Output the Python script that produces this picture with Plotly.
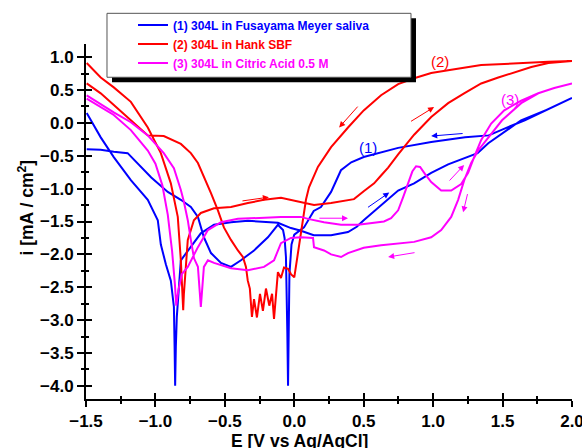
import plotly.graph_objects as go

# ---------------- data (E in V vs Ag/AgCl, i = log current) ----------------
series_names = [
    "(1) 304L in Fusayama Meyer saliva",
    "(2) 304L in Hank SBF",
    "(3) 304L in Citric Acid 0.5 M",
]
series_colors = ["#0000FF", "#FF0000", "#FF00FF"]

saliva_fwd_E = [-1.495, -1.394, -1.30, -1.177, -1.055, -0.983, -0.961, -0.925, -0.889, -0.867, -0.862, -0.858,
                -0.853, -0.846, -0.817, -0.745, -0.673, -0.578, -0.456, -0.334, -0.218, -0.118, -0.024, 0.048,
                0.14, 0.265, 0.387, 0.45, 0.50, 0.56, 0.625, 0.684, 0.748, 0.863, 0.986, 1.108, 1.252, 1.32,
                1.397, 1.51, 1.633, 1.83, 2.0]
saliva_fwd_i = [0.15, -0.22, -0.52, -0.87, -1.17, -1.48, -1.85, -2.15, -2.40, -2.80, -3.40, -4.00,
                -3.40, -2.95, -2.09, -1.89, -1.68, -1.55, -1.51, -1.49, -1.51, -1.52, -1.60, -1.64,
                -1.71, -1.71, -1.66, -1.58, -1.48, -1.37, -1.25, -1.14, -1.03, -0.92, -0.76, -0.63, -0.52, -0.46,
                -0.31, -0.14, 0.04, 0.21, 0.38]
saliva_rev_E = [2.0, 1.83, 1.66, 1.51, 1.40, 1.23, 0.986, 0.748, 0.625, 0.50, 0.41, 0.336, 0.265, 0.192, 0.14,
                0.07, 0.0, -0.02, -0.035, -0.042, -0.045, -0.05, -0.06, -0.07, -0.081, -0.118, -0.19, -0.29,
                -0.384, -0.456, -0.528, -0.60, -0.651, -0.694, -0.745, -0.817, -0.911, -1.03, -1.127, -1.20,
                -1.30, -1.394, -1.495]
saliva_rev_i = [0.38, 0.20, 0.04, -0.09, -0.19, -0.22, -0.29, -0.38, -0.45, -0.52, -0.60, -0.72, -1.05, -1.28, -1.34,
                -1.59, -1.70, -1.85, -2.30, -3.20, -4.00, -3.20, -2.04, -1.75, -1.63, -1.55, -1.74, -1.94,
                -2.09, -2.19, -2.13, -1.98, -1.74, -1.43, -1.28, -1.17, -1.05, -0.83, -0.61, -0.46,
                -0.44, -0.41, -0.40]

hank_fwd_E = [-1.495, -1.394, -1.30, -1.177, -1.055, -0.961, -0.889, -0.839, -0.817, -0.805, -0.80, -0.795,
              -0.788, -0.767, -0.723, -0.673, -0.578, -0.456, -0.334, -0.218, -0.096, 0.027, 0.07, 0.142,
              0.265, 0.43, 0.50, 0.575, 0.625, 0.676, 0.748, 0.863, 0.986, 1.108, 1.223, 1.346, 1.469,
              1.584, 1.707, 1.83, 2.0]
hank_fwd_i = [0.91, 0.69, 0.54, 0.32, -0.07, -0.46, -0.92, -1.43, -2.09, -2.60, -2.85, -2.60,
              -2.39, -1.78, -1.48, -1.37, -1.30, -1.28, -1.22, -1.17, -1.14, -1.20, -1.21, -1.25,
              -1.22, -1.16, -1.04, -0.92, -0.80, -0.68, -0.48, -0.18, 0.09, 0.30, 0.45, 0.60, 0.69,
              0.77, 0.85, 0.91, 0.94]
hank_rev_E = [2.0, 1.83, 1.584, 1.346, 1.108, 0.986, 0.863, 0.748, 0.625, 0.50, 0.387, 0.265, 0.17, 0.106,
              0.084, 0.063, 0.034, 0.019, 0.0, -0.024, -0.045, -0.074, -0.096, -0.118, -0.132, -0.146,
              -0.16, -0.18, -0.204, -0.226, -0.247, -0.269, -0.29, -0.305, -0.32, -0.335, -0.348, -0.37,
              -0.406, -0.456, -0.507, -0.55, -0.60, -0.651, -0.694, -0.745, -0.817, -0.94, -1.055,
              -1.177, -1.30, -1.394, -1.495]
hank_rev_i = [0.94, 0.93, 0.91, 0.88, 0.80, 0.76, 0.68, 0.59, 0.42, 0.19, -0.07, -0.37, -0.67, -0.98,
              -1.17, -1.48, -1.89, -2.13, -2.35, -2.30, -2.22, -2.20, -2.36, -2.27, -2.70, -2.98,
              -2.60, -2.78, -2.52, -2.86, -2.60, -2.96, -2.68, -2.95, -2.52, -2.40, -2.19, -2.04,
              -1.94, -1.78, -1.59, -1.33, -1.07, -0.83, -0.61, -0.46, -0.32, -0.20, -0.19,
              0.04, 0.27, 0.45, 0.60]

citric_fwd_E = [-1.495, -1.415, -1.30, -1.177, -1.055, -1.0, -0.95, -0.911, -0.88, -0.86, -0.85, -0.835,
                -0.81, -0.767, -0.694, -0.622, -0.528, -0.406, -0.29, -0.168, -0.096, 0.048, 0.099, 0.214,
                0.337, 0.46, 0.575, 0.646, 0.697, 0.748, 0.784, 0.82, 0.85, 0.877, 0.906, 0.942, 0.986,
                1.058, 1.13, 1.202, 1.252, 1.295, 1.346, 1.418, 1.512, 1.634, 1.757, 1.872, 2.0]
citric_fwd_i = [0.37, 0.27, 0.12, -0.11, -0.42, -0.62, -0.95, -1.40, -1.95, -2.45, -2.78, -2.55,
                -2.30, -2.19, -1.89, -1.63, -1.51, -1.46, -1.45, -1.43, -1.43, -1.43, -1.46, -1.51,
                -1.55, -1.55, -1.52, -1.50, -1.45, -1.33, -1.13, -0.92, -0.74, -0.66, -0.67, -0.78, -0.90,
                -1.03, -1.03, -0.93, -0.76, -0.52, -0.26, -0.01, 0.19, 0.34, 0.45, 0.53, 0.60]
citric_rev_E = [2.0, 1.872, 1.757, 1.634, 1.496, 1.397, 1.324, 1.274, 1.224, 1.18, 1.13, 1.058, 0.986,
                0.863, 0.748, 0.625, 0.50, 0.387, 0.337, 0.265, 0.214, 0.142, 0.135, 0.048, -0.024, -0.096,
                -0.146, -0.218, -0.334, -0.456, -0.578, -0.622, -0.651, -0.673, -0.694, -0.722, -0.745,
                -0.767, -0.795, -0.817, -0.867, -0.94, -1.055, -1.177, -1.30, -1.415, -1.495]
citric_rev_i = [0.60, 0.53, 0.45, 0.30, 0.04, -0.22, -0.42, -0.61, -0.87, -1.17, -1.43, -1.63, -1.74,
                -1.81, -1.83, -1.86, -1.90, -1.98, -2.04, -2.00, -1.94, -1.89, -1.75, -1.74, -1.75, -1.83,
                -2.09, -2.19, -2.24, -2.21, -2.13, -2.09, -2.19, -2.80, -2.19, -2.06, -1.78,
                -1.48, -1.20, -1.02, -0.69, -0.46, -0.19, 0.01, 0.16, 0.31, 0.42]

series_E = [saliva_fwd_E + saliva_rev_E, hank_fwd_E + hank_rev_E, citric_fwd_E + citric_rev_E]
series_i = [saliva_fwd_i + saliva_rev_i, hank_fwd_i + hank_rev_i, citric_fwd_i + citric_rev_i]

curve_labels = ["(1)", "(2)", "(3)"]
label_E = [0.53, 1.05, 1.55]
label_i = [-0.37, 0.94, 0.36]

# scan-direction arrows
arrow_tail_E = [1.223, 0.52, 0.466, 0.83, -0.384, 0.17, 1.108, 1.25, 0.877]
arrow_tail_i = [-0.16, -1.30, 0.27, 0.01, -1.19, -1.45, -0.90, -1.06, -1.97]
arrow_head_E = [0.986, 0.684, 0.323, 1.007, -0.183, 0.387, 1.223, 1.216, 0.676]
arrow_head_i = [-0.20, -1.06, -0.07, 0.24, -1.13, -1.45, -0.64, -1.36, -2.04]
arrow_series = [0, 0, 1, 1, 1, 2, 2, 2, 2]

# ---------------- figure ----------------
FONT = "Liberation Sans, Arial, sans-serif"
fig = go.Figure()
for name, col, E, cur in zip(series_names, series_colors, series_E, series_i):
    fig.add_trace(go.Scatter(x=E, y=cur, mode="lines",
                             name='<span style="color:%s">%s</span>' % (col, name),
                             line=dict(color=col, width=2)))
# dummy trace for overlay axes (inside ticks)
fig.add_trace(go.Scatter(x=[], y=[], xaxis="x2", yaxis="y2", showlegend=False, hoverinfo="skip"))

annotations = []
for t, e, v, col in zip(curve_labels, label_E, label_i, series_colors):
    annotations.append(dict(x=e, y=v, xref="x", yref="y", text=t, showarrow=False,
                            font=dict(family=FONT, size=15, color=col)))
for te, ti, he, hi, s in zip(arrow_tail_E, arrow_tail_i, arrow_head_E, arrow_head_i, arrow_series):
    annotations.append(dict(x=he, y=hi, ax=te, ay=ti, xref="x", yref="y", axref="x", ayref="y",
                            text="", showarrow=True, arrowhead=2, arrowsize=1.2, arrowwidth=1,
                            arrowcolor=series_colors[s]))
annotations.append(dict(x=0.44, y=-0.119, xref="paper", yref="paper", text="E [V vs Ag/AgCl]",
                        showarrow=False, xanchor="center", yanchor="middle",
                        font=dict(family=FONT, size=17.5, color="black", weight="bold")))
annotations.append(dict(x=-0.123, y=0.54, xref="paper", yref="paper", text="i [mA / cm<sup>2</sup>]",
                        showarrow=False, textangle=-90, xanchor="center", yanchor="middle",
                        font=dict(family=FONT, size=17.5, color="black", weight="bold")))

shapes = [
    dict(type="rect", xref="paper", yref="paper", x0=0.0535, x1=0.679, y0=0.8922, y1=1.0723,
         fillcolor="black", line=dict(width=0), layer="above"),
    dict(type="rect", xref="paper", yref="paper", x0=0.0432, x1=0.6687, y0=0.9063, y1=1.0864,
         fillcolor="white", line=dict(color="#555555", width=1), layer="above"),
]

tickfont = dict(family=FONT, size=17, color="black", weight="bold")
minor_out = dict(dtick=0.25, tick0=0, ticks="outside", ticklen=3, tickwidth=1.5, tickcolor="black")
minor_in = dict(dtick=0.25, tick0=0, ticks="inside", ticklen=3, tickwidth=1.5, tickcolor="black")
fig.update_layout(
    width=582, height=448,
    margin=dict(l=86, r=10, t=44, b=49),
    paper_bgcolor="white", plot_bgcolor="white",
    showlegend=True,
    legend=dict(x=0.0967, y=1.0946, xanchor="left", yanchor="top",
                bgcolor="rgba(0,0,0,0)", borderwidth=0,
                font=dict(family=FONT, size=12, weight="bold")),
    xaxis=dict(range=[-1.5, 2.0], dtick=0.5, tick0=0, showgrid=False, zeroline=False, automargin=False,
               showline=True, linecolor="black", linewidth=2, ticks="outside", ticklen=6,
               tickwidth=2, tickcolor="black", tickfont=tickfont, tickformat=".1f",
               ticklabeloverflow="allow", minor=minor_out),
    yaxis=dict(range=[-4.2, 1.2], dtick=0.5, tick0=0, showgrid=False, zeroline=False, automargin=False,
               showline=True, linecolor="black", linewidth=2, ticks="outside", ticklen=7,
               tickwidth=2, tickcolor="black", tickfont=tickfont, tickformat=".1f",
               ticklabeloverflow="allow", minor=minor_out),
    xaxis2=dict(range=[-1.5, 2.0], overlaying="x", anchor="y2", dtick=0.5, tick0=0, showgrid=False,
                zeroline=False, showline=False, ticks="inside", ticklen=6, tickwidth=2, tickcolor="black",
                showticklabels=False, minor=minor_in, automargin=False),
    yaxis2=dict(range=[-4.2, 1.2], overlaying="y", anchor="x2", dtick=0.5, tick0=0, showgrid=False,
                zeroline=False, showline=False, ticks="inside", ticklen=6, tickwidth=2, tickcolor="black",
                showticklabels=False, minor=minor_in, automargin=False),
    annotations=annotations,
    shapes=shapes,
)

fig.write_html("out.html", config={"displayModeBar": False},
               post_script="document.body.style.margin='0px';")
